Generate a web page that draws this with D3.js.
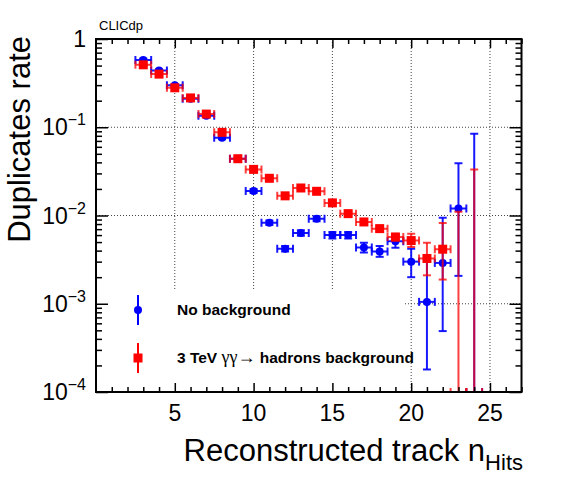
<!DOCTYPE html>
<html>
<head>
<meta charset="utf-8">
<script src="https://cdn.jsdelivr.net/npm/d3@7"></script>
<style>
  body { margin: 0; background: #fff; }
  text { font-family: "Liberation Sans", Arial, Helvetica, sans-serif; }
</style>
</head>
<body>
<div id="chart"></div>
<script>
// data
var nHits = [3, 4, 5, 6, 7, 8, 9, 10, 11, 12, 13, 14, 15, 16, 17, 18, 19, 20, 21, 22, 23, 24];

var noBkg = [0.58, 0.44, 0.30, 0.21, 0.135, 0.076, 0.044, 0.019, 0.0083, 0.0042, 0.00635,
    0.0092, 0.0060, 0.0060, 0.00434, 0.0039, 0.0051, 0.0030, 0.00105, 0.0029, 0.012, 0];
var noBkgLo = [0.56, 0.425, 0.29, 0.203, 0.13, 0.073, 0.042, 0.018, 0.0078, 0.0039, 0.0059,
    0.0086, 0.0055, 0.0055, 0.0038, 0.0034, 0.0043, 0.0020, 0.00018, 0.00049, 0.00207, 0];
var noBkgHi = [0.60, 0.455, 0.31, 0.217, 0.14, 0.079, 0.046, 0.020, 0.0088, 0.0045, 0.0068,
    0.0098, 0.0065, 0.0065, 0.0049, 0.0045, 0.0058, 0.0042, 0.0033, 0.0094, 0.039, 0.0845];

var withBkg = [0.51, 0.40, 0.28, 0.215, 0.141, 0.0875, 0.044, 0.0333, 0.0264, 0.0167, 0.0205,
    0.0188, 0.0139, 0.0105, 0.00845, 0.0071, 0.0057, 0.0052, 0.00326, 0.00415, 0, 0];
var withBkgLo = [0.50, 0.39, 0.274, 0.21, 0.137, 0.085, 0.0425, 0.032, 0.0253, 0.016, 0.0197,
    0.018, 0.0132, 0.0099, 0.0079, 0.0066, 0.0052, 0.0044, 0.0021, 0.00188, 0, 0];
var withBkgHi = [0.52, 0.41, 0.286, 0.22, 0.145, 0.09, 0.0455, 0.0346, 0.0275, 0.0174, 0.0213,
    0.0196, 0.0146, 0.0111, 0.009, 0.0076, 0.0062, 0.0062, 0.0049, 0.0082, 0.011, 0.0333];

var xMajor = [5, 10, 15, 20, 25];
var yMajor = [1, 1e-1, 1e-2, 1e-3, 1e-4];
var yLabels = [["1", ""], ["10", "\u22121"], ["10", "\u22122"], ["10", "\u22123"], ["10", "\u22124"]];

var margin = { top: 39, right: 45.5, bottom: 86, left: 96 },
    width = 567 - margin.left - margin.right,
    height = 478 - margin.top - margin.bottom;

var svg = d3.select("#chart")
    .append("svg")
    .attr("width", 567)
    .attr("height", 478);

var plot = svg.append("g")
    .attr("transform", "translate(" + margin.left + "," + margin.top + ")");

var x = d3.scaleLinear().domain([0, 27]).range([0, width]);
var y = d3.scaleLog().domain([1e-4, 1]).range([height, 0]);

var xMinor = d3.range(1, 28).filter(function(d) { return xMajor.indexOf(d) < 0; });
var yMinor = [];
[1e-4, 1e-3, 1e-2, 1e-1].forEach(function(dec) {
    for (var k = 2; k <= 9; k++) yMinor.push(dec * k);
});

// grid
plot.selectAll(".vgrid")
    .data(xMajor)
    .enter().append("line")
    .attr("x1", d => x(d)).attr("x2", d => x(d))
    .attr("y1", 0).attr("y2", height)
    .attr("stroke", "#444").attr("stroke-width", 1)
    .attr("stroke-dasharray", "1,2");
plot.selectAll(".hgrid")
    .data([1e-1, 1e-2, 1e-3])
    .enter().append("line")
    .attr("x1", 0).attr("x2", width)
    .attr("y1", d => y(d)).attr("y2", d => y(d))
    .attr("stroke", "#444").attr("stroke-width", 1)
    .attr("stroke-dasharray", "1,2");

// legend box (white, covers grid)
plot.append("rect")
    .attr("x", 0).attr("y", 251)
    .attr("width", 307).attr("height", height - 251)
    .attr("fill", "#fff");

// clip for data
svg.append("clipPath").attr("id", "clip")
    .append("rect").attr("width", width).attr("height", height);

var dataG = plot.append("g").attr("clip-path", "url(#clip)");

function yPos(v) {
    return y(Math.max(v, 1e-4));
}

function drawSeries(vals, lo, hi, color, marker, lineOpacity) {
    var pts = nHits.map(function(n, i) {
        return { n: n, v: vals[i], lo: lo[i], hi: hi[i] };
    });
    var g = dataG.append("g")
        .attr("stroke", color)
        .attr("stroke-width", 2)
        .attr("stroke-opacity", lineOpacity);
    var cap = 4;
    pts.forEach(function(d) {
        var cx = x(d.n), cy = yPos(d.v);
        // horizontal error
        g.append("line").attr("x1", x(d.n - 0.5)).attr("x2", x(d.n + 0.5))
            .attr("y1", cy).attr("y2", cy);
        g.append("line").attr("x1", x(d.n - 0.5)).attr("x2", x(d.n - 0.5))
            .attr("y1", cy - cap).attr("y2", cy + cap);
        g.append("line").attr("x1", x(d.n + 0.5)).attr("x2", x(d.n + 0.5))
            .attr("y1", cy - cap).attr("y2", cy + cap);
        // vertical error
        var ylo = yPos(d.lo), yhi = yPos(d.hi);
        if (d.lo <= 0) ylo = height + 10;
        g.append("line").attr("x1", cx).attr("x2", cx)
            .attr("y1", ylo).attr("y2", yhi);
        g.append("line").attr("x1", cx - cap).attr("x2", cx + cap)
            .attr("y1", yhi).attr("y2", yhi);
        if (d.lo > 0) {
            g.append("line").attr("x1", cx - cap).attr("x2", cx + cap)
                .attr("y1", ylo).attr("y2", ylo);
        }
    });
    var mk = dataG.append("g").attr("fill", color);
    pts.filter(d => d.v > 0).forEach(function(d) {
        if (marker == "circle") {
            mk.append("circle").attr("cx", x(d.n)).attr("cy", y(d.v)).attr("r", 4);
        } else {
            mk.append("rect").attr("x", x(d.n) - 4.5).attr("y", y(d.v) - 4.5)
                .attr("width", 9).attr("height", 9);
        }
    });
}

drawSeries(noBkg, noBkgLo, noBkgHi, "#0000ff", "circle", 0.9);
drawSeries(withBkg, withBkgLo, withBkgHi, "#ff0000", "square", 0.75);

// ticks on all four sides, pointing inward
function ticks(axis, tr, vals, size) {
    var g = plot.append("g")
        .attr("transform", tr)
        .call(axis.tickValues(vals).tickSize(size).tickFormat(""));
    g.select(".domain").remove();
    g.selectAll("line").attr("stroke", "#000").attr("stroke-width", 1.5);
}
ticks(d3.axisTop(x), "translate(0," + height + ")", xMajor, 9);
ticks(d3.axisTop(x), "translate(0," + height + ")", xMinor, 5);
ticks(d3.axisBottom(x), "translate(0,0)", xMajor, 9);
ticks(d3.axisBottom(x), "translate(0,0)", xMinor, 5);
ticks(d3.axisRight(y), "translate(0,0)", yMajor, 12);
ticks(d3.axisRight(y), "translate(0,0)", yMinor, 6);
ticks(d3.axisLeft(y), "translate(" + width + ",0)", yMajor, 12);
ticks(d3.axisLeft(y), "translate(" + width + ",0)", yMinor, 6);

// frame
plot.append("rect")
    .attr("width", width).attr("height", height)
    .attr("fill", "none").attr("stroke", "#000").attr("stroke-width", 2);

// x tick labels
plot.selectAll(".xlab")
    .data(xMajor)
    .enter().append("text")
    .attr("x", d => x(d))
    .attr("y", height + 29)
    .attr("text-anchor", "middle")
    .attr("font-size", 23)
    .text(d => d);

// y tick labels
yMajor.forEach(function(v, i) {
    var t = plot.append("text")
        .attr("x", -10)
        .attr("y", y(v) + 8)
        .attr("text-anchor", "end")
        .attr("font-size", 23);
    t.append("tspan").text(yLabels[i][0]);
    if (yLabels[i][1]) {
        t.append("tspan").attr("font-size", 16).attr("dy", -10).text(yLabels[i][1]);
    }
});

// axis titles
var xt = svg.append("text")
    .attr("x", 523).attr("y", 461)
    .attr("text-anchor", "end")
    .attr("font-size", 31);
xt.append("tspan").text("Reconstructed track n");
xt.append("tspan").attr("font-size", 22).attr("dy", 9).text("Hits");

svg.append("text")
    .attr("transform", "translate(30,36)rotate(-90)")
    .attr("text-anchor", "end")
    .attr("font-size", 31)
    .text("Duplicates rate");

svg.append("text")
    .attr("x", 99).attr("y", 30)
    .attr("font-size", 13)
    .text("CLICdp");

// legend
var legend = [
    { label: "No background", color: "#0000ff", marker: "circle", cy: 310 },
    { label: "3 TeV", color: "#ff0000", marker: "square", cy: 358 }
];
legend.forEach(function(d) {
    svg.append("line")
        .attr("x1", 138).attr("x2", 138)
        .attr("y1", d.cy - 15).attr("y2", d.cy + 15)
        .attr("stroke", d.color).attr("stroke-width", 2);
    if (d.marker == "circle") {
        svg.append("circle").attr("cx", 138).attr("cy", d.cy).attr("r", 4).attr("fill", d.color);
    } else {
        svg.append("rect").attr("x", 133.5).attr("y", d.cy - 4.5)
            .attr("width", 9).attr("height", 9).attr("fill", d.color);
    }
});
svg.append("text")
    .attr("x", 177).attr("y", 315)
    .attr("font-size", 15.5).attr("font-weight", "bold")
    .text("No background");
var lt = svg.append("text")
    .attr("x", 177).attr("y", 363)
    .attr("font-size", 15.5).attr("font-weight", "bold");
lt.append("tspan").text("3 TeV  ");
lt.append("tspan")
    .attr("font-weight", "normal")
    .attr("font-family", "'Liberation Serif', 'DejaVu Serif', serif")
    .attr("font-size", 18)
    .text("\u03B3\u03B3\u2192");
lt.append("tspan").text(" hadrons background");
</script>
</body>
</html>
